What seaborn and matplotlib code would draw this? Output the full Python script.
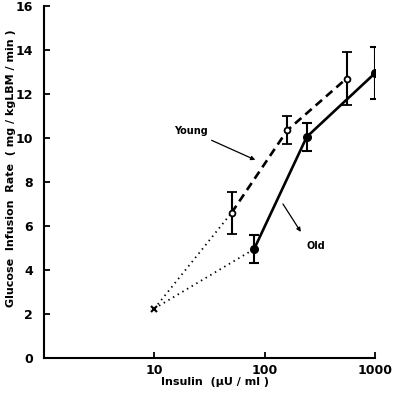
import numpy as np
import pandas as pd
import matplotlib.pyplot as plt
import seaborn as sns

#----------DATA-----------------#
basal_x = 10
basal_y = 2.25

young_x   = [50, 160, 550]
young_y   = [6.6, 10.35, 12.7]
young_err = [0.95, 0.63, 1.2]

old_x   = [80, 240, 1000]
old_y   = [4.95, 10.05, 12.95]
old_err = [0.65, 0.63, 1.18]

x_ticks  = [10, 100, 1000]
x_labels = ["10", "100", "1000"]
y_ticks  = [0, 2, 4, 6, 8, 10, 12, 14, 16]

young = pd.DataFrame({"insulin": young_x, "rate": young_y, "err": young_err})
old   = pd.DataFrame({"insulin": old_x, "rate": old_y, "err": old_err})

#----------STYLE----------------#
sns.set_style("ticks")
plt.rcParams["font.family"] = ["DejaVu Sans"]
plt.rcParams["font.weight"] = "bold"
for key in ("text.color", "axes.labelcolor", "axes.edgecolor",
            "xtick.color", "ytick.color"):
    plt.rcParams[key] = "black"

fig = plt.figure(figsize=(3.97, 3.93), dpi=100)
ax = fig.add_axes([0.111, 0.089, 0.834, 0.896])

#----------CURVES---------------#
sns.lineplot(data=young, x="insulin", y="rate", ax=ax, color="black",
             lw=1.9, linestyle=(0, (3.2, 2.0)), sort=False, estimator=None)
sns.lineplot(data=old, x="insulin", y="rate", ax=ax, color="black",
             lw=1.9, sort=False, estimator=None)

# dotted links from basal point
for df in (young, old):
    sns.lineplot(x=[basal_x, df["insulin"][0]], y=[basal_y, df["rate"][0]],
                 ax=ax, color="black", lw=1.3, linestyle=(0, (0.8, 2.2)),
                 sort=False, estimator=None)

#----------POINTS + ERRORBARS---#
ax.errorbar(young["insulin"], young["rate"], yerr=young["err"], fmt="o",
            mfc="white", mec="black", mew=1.3, ms=4.2, ecolor="black",
            elinewidth=1.5, capsize=3.3, capthick=1.5, zorder=5)
ax.errorbar(old["insulin"], old["rate"], yerr=old["err"], fmt="o",
            mfc="black", mec="black", ms=5.5, ecolor="black",
            elinewidth=1.5, capsize=3.3, capthick=1.5, zorder=5)
ax.plot(basal_x, basal_y, marker="x", color="black", ms=4, mew=1.5, zorder=5)

#----------LABELS---------------#
ax.annotate("Young", xy=(82, 9.0), xytext=(21.3, 10.32), fontsize=7,
            ha="center", va="center",
            arrowprops=dict(arrowstyle="-|>", color="black", lw=0.9,
                            mutation_scale=6, shrinkA=2, shrinkB=0))
ax.annotate("", xy=(212, 5.73), xytext=(146, 7.0),
            arrowprops=dict(arrowstyle="-|>", color="black", lw=0.9,
                            mutation_scale=6, shrinkA=0, shrinkB=0))
ax.text(290, 5.09, "Old", fontsize=7, ha="center", va="center")

#----------AXES-----------------#
ax.set_xscale("log")
ax.set_xlim(1, 1000)
ax.set_ylim(0, 16)
ax.set_xticks(x_ticks)
ax.set_xticklabels(x_labels)
ax.xaxis.set_minor_locator(plt.NullLocator())
ax.set_yticks(y_ticks)
ax.tick_params(direction="in", length=4, width=1.3, labelsize=9, pad=8)
ax.tick_params(axis="x", pad=4)
sns.despine(ax=ax)
for s in ("left", "bottom"):
    ax.spines[s].set_linewidth(1.5)

ax.set_xlabel("Insulin  (\u00b5U / ml )", fontsize=8, fontweight="bold")
ax.xaxis.set_label_coords(0.517, -0.054)
ax.set_ylabel("Glucose  Infusion  Rate  ( mg / kgLBM / min )", fontsize=8,
              fontweight="bold")
ax.yaxis.set_label_coords(-0.085, 0.54)

plt.savefig("out.png", dpi=100)
